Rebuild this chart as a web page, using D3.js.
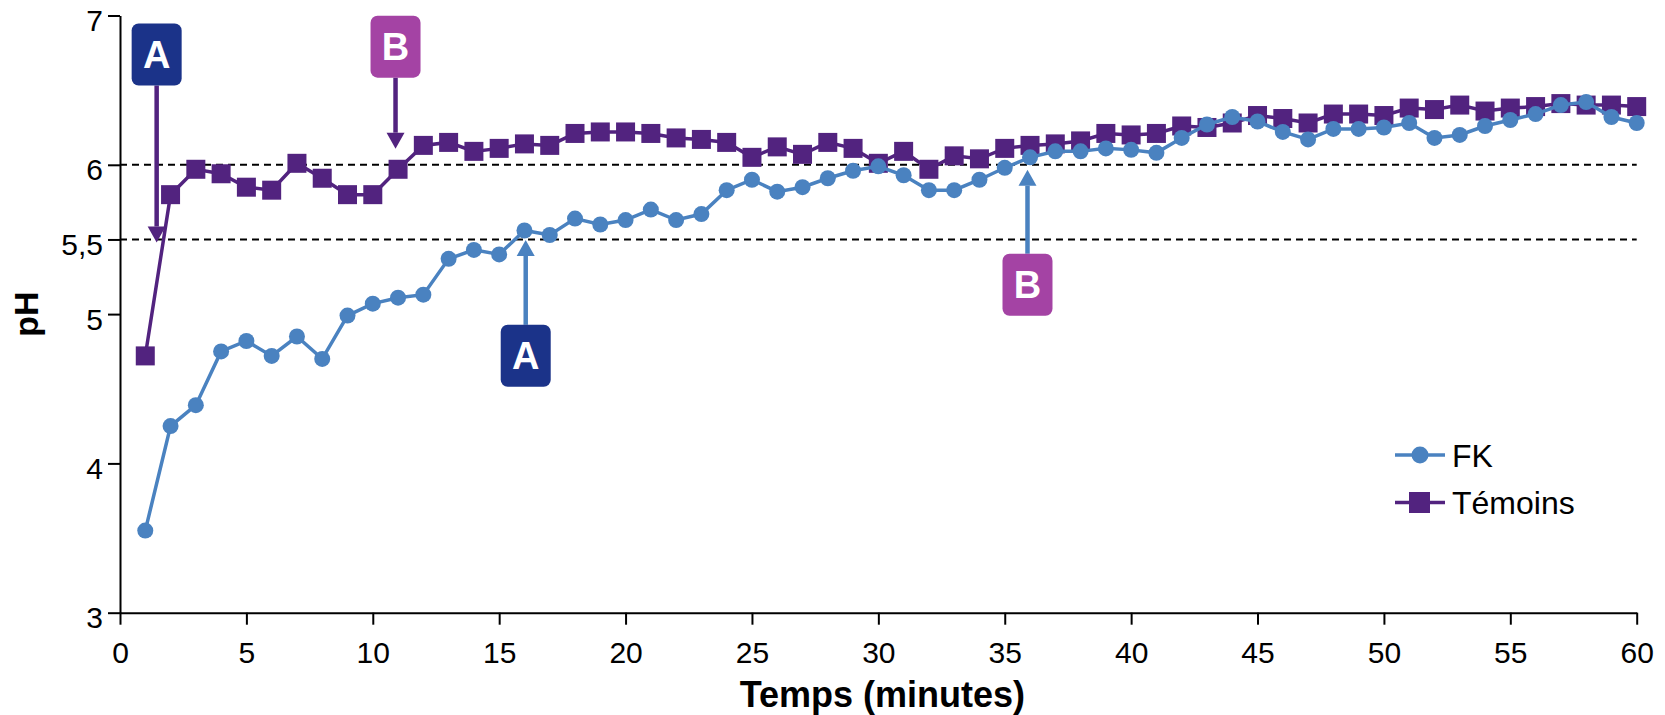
<!DOCTYPE html>
<html lang="fr">
<head>
<meta charset="utf-8">
<title>pH - FK / Témoins</title>
<script src="https://cdn.jsdelivr.net/npm/d3@7"></script>
<style>
  body { margin: 0; background: #fff; }
  text { font-family: "Liberation Sans", Arial, Helvetica, sans-serif; }
</style>
</head>
<body>
<script>
// data
var minutes = d3.range(1, 61);
var fk = [3.55, 4.25, 4.39, 4.75, 4.82, 4.72, 4.85, 4.70, 4.99, 5.07,
          5.11, 5.13, 5.37, 5.43, 5.40, 5.56, 5.53, 5.64, 5.60, 5.63,
          5.70, 5.63, 5.67, 5.83, 5.90, 5.82, 5.85, 5.91, 5.96, 5.99,
          5.93, 5.83, 5.83, 5.90, 5.98, 6.05, 6.09, 6.09, 6.11, 6.10,
          6.08, 6.18, 6.27, 6.32, 6.29, 6.22, 6.17, 6.24, 6.24, 6.25,
          6.28, 6.18, 6.20, 6.26, 6.30, 6.34, 6.40, 6.42, 6.32, 6.28];
var temoins = [4.72, 5.80, 5.97, 5.94, 5.85, 5.83, 6.01, 5.91, 5.80, 5.80,
               5.97, 6.13, 6.15, 6.09, 6.11, 6.14, 6.13, 6.21, 6.22, 6.22,
               6.21, 6.18, 6.17, 6.15, 6.05, 6.12, 6.07, 6.15, 6.11, 6.01,
               6.09, 5.97, 6.06, 6.04, 6.11, 6.13, 6.14, 6.16, 6.21, 6.20,
               6.21, 6.26, 6.25, 6.28, 6.33, 6.31, 6.28, 6.34, 6.34, 6.33,
               6.38, 6.37, 6.40, 6.36, 6.38, 6.39, 6.41, 6.40, 6.40, 6.39];
var seriesNames = ["FK", "Témoins"];
var xTicks = [0, 5, 10, 15, 20, 25, 30, 35, 40, 45, 50, 55, 60];
var yTicks = [3, 4, 5, 5.5, 6, 7];
var yTickLabels = ["3", "4", "5", "5,5", "6", "7"];
var refLines = [5.5, 6];
// annotation arrows: label, time, pH at arrow tip, pH at far edge of box
var notes = [
  { label: "A", t: 1.45, tip: 5.48, edge: 6.946, up: false },
  { label: "B", t: 10.9, tip: 6.108, edge: 6.999, up: false },
  { label: "A", t: 16.05, tip: 5.497, edge: 4.513, up: true },
  { label: "B", t: 35.9, tip: 5.967, edge: 4.989, up: true }
];

var W = 1665, H = 715;
var colFK = "#4a82c0", colT = "#52237f", colA = "#1b3389", colB = "#a443a4";

var svg = d3.select("body").append("svg")
  .attr("width", W).attr("height", H);

var x = d3.scaleLinear().domain([0, 60]).range([120, 1636.7]);
var y = d3.scaleLinear().domain([3, 7]).range([612.7, 15.5]);

// reference dashed lines
svg.selectAll(".ref").data(refLines).enter().append("line")
  .attr("x1", x(0)).attr("x2", x(60))
  .attr("y1", function(d){ return y(d); })
  .attr("y2", function(d){ return y(d); })
  .attr("stroke", "#000").attr("stroke-width", 2)
  .attr("stroke-dasharray", "7,5");

// axes
var xAxis = svg.append("g")
  .attr("transform", "translate(0," + y(3) + ")")
  .call(d3.axisBottom(x).tickValues(xTicks).tickSize(12).tickSizeOuter(0).tickPadding(17));
var yAxis = svg.append("g")
  .attr("transform", "translate(" + x(0) + ",0)")
  .call(d3.axisLeft(y).tickValues(yTicks).tickSize(12).tickSizeOuter(0).tickPadding(5)
    .tickFormat(function(d, i){ return yTickLabels[i]; }));
[xAxis, yAxis].forEach(function(g){
  g.select(".domain").attr("stroke-width", 2);
  g.selectAll(".tick line").attr("stroke-width", 2);
  g.selectAll(".tick text").attr("font-size", 30).attr("fill", "#000")
    .style("font-family", "'Liberation Sans', Arial, sans-serif");
});
yAxis.selectAll(".tick text").attr("dy", "0.5em");

// axis titles
svg.append("text")
  .attr("x", (x(0) + x(60)) / 2 + 4).attr("y", 707)
  .attr("text-anchor", "middle")
  .attr("font-size", 36).attr("font-weight", "bold")
  .text("Temps (minutes)");
svg.append("text")
  .attr("transform", "translate(38," + ((y(3) + y(7)) / 2) + ") rotate(-90)")
  .attr("text-anchor", "middle")
  .attr("font-size", 34).attr("font-weight", "bold")
  .text("pH");

var line = d3.line()
  .x(function(d, i){ return x(minutes[i]); })
  .y(function(d){ return y(d); });

// Témoins (squares)
svg.append("path").datum(temoins)
  .attr("d", line).attr("fill", "none")
  .attr("stroke", colT).attr("stroke-width", 3.5);
svg.selectAll(".sq").data(temoins).enter().append("rect")
  .attr("x", function(d, i){ return x(minutes[i]) - 9.5; })
  .attr("y", function(d){ return y(d) - 9.5; })
  .attr("width", 19).attr("height", 19)
  .attr("fill", colT);

// FK (circles)
svg.append("path").datum(fk)
  .attr("d", line).attr("fill", "none")
  .attr("stroke", colFK).attr("stroke-width", 3.5);
svg.selectAll(".dot").data(fk).enter().append("circle")
  .attr("cx", function(d, i){ return x(minutes[i]); })
  .attr("cy", function(d){ return y(d); })
  .attr("r", 8)
  .attr("fill", colFK);

// annotations
var boxW = 50, boxH = 62;
notes.forEach(function(n){
  var ax = x(n.t), tipY = y(n.tip);
  var boxTop = n.up ? y(n.edge) - boxH : y(n.edge);
  var lineStart = n.up ? boxTop : boxTop + boxH;
  var arrowCol = n.up ? colFK : colT;
  var headH = 16, headW = 9;
  var baseY = n.up ? tipY + headH : tipY - headH;
  var g = svg.append("g");
  g.append("line")
    .attr("x1", ax).attr("x2", ax)
    .attr("y1", lineStart).attr("y2", baseY)
    .attr("stroke", arrowCol).attr("stroke-width", 4.5);
  g.append("path")
    .attr("d", "M" + (ax - headW) + "," + baseY + "L" + ax + "," + tipY + "L" + (ax + headW) + "," + baseY + "Z")
    .attr("fill", arrowCol);
  g.append("rect")
    .attr("x", ax - boxW / 2).attr("y", boxTop)
    .attr("width", boxW).attr("height", boxH)
    .attr("rx", 7).attr("ry", 7)
    .attr("fill", n.label == "A" ? colA : colB);
  g.append("text")
    .attr("x", ax).attr("y", boxTop + boxH / 2 + 13.5)
    .attr("text-anchor", "middle")
    .attr("font-size", 38).attr("font-weight", "bold")
    .attr("fill", "#fff")
    .text(n.label);
});

// legend
var legend = svg.append("g").attr("transform", "translate(1395,455)");
seriesNames.forEach(function(name, i){
  var gy = i * 47.5;
  var c = i == 0 ? colFK : colT;
  legend.append("line")
    .attr("x1", 0).attr("x2", 50).attr("y1", gy).attr("y2", gy)
    .attr("stroke", c).attr("stroke-width", 3.5);
  if (i == 0) {
    legend.append("circle").attr("cx", 25).attr("cy", gy).attr("r", 8.5).attr("fill", c);
  } else {
    legend.append("rect").attr("x", 14).attr("y", gy - 10.5).attr("width", 21).attr("height", 21).attr("fill", c);
  }
  legend.append("text")
    .attr("x", 57).attr("y", gy + 11.5)
    .attr("font-size", 32).attr("fill", "#000")
    .text(name);
});
</script>
</body>
</html>
